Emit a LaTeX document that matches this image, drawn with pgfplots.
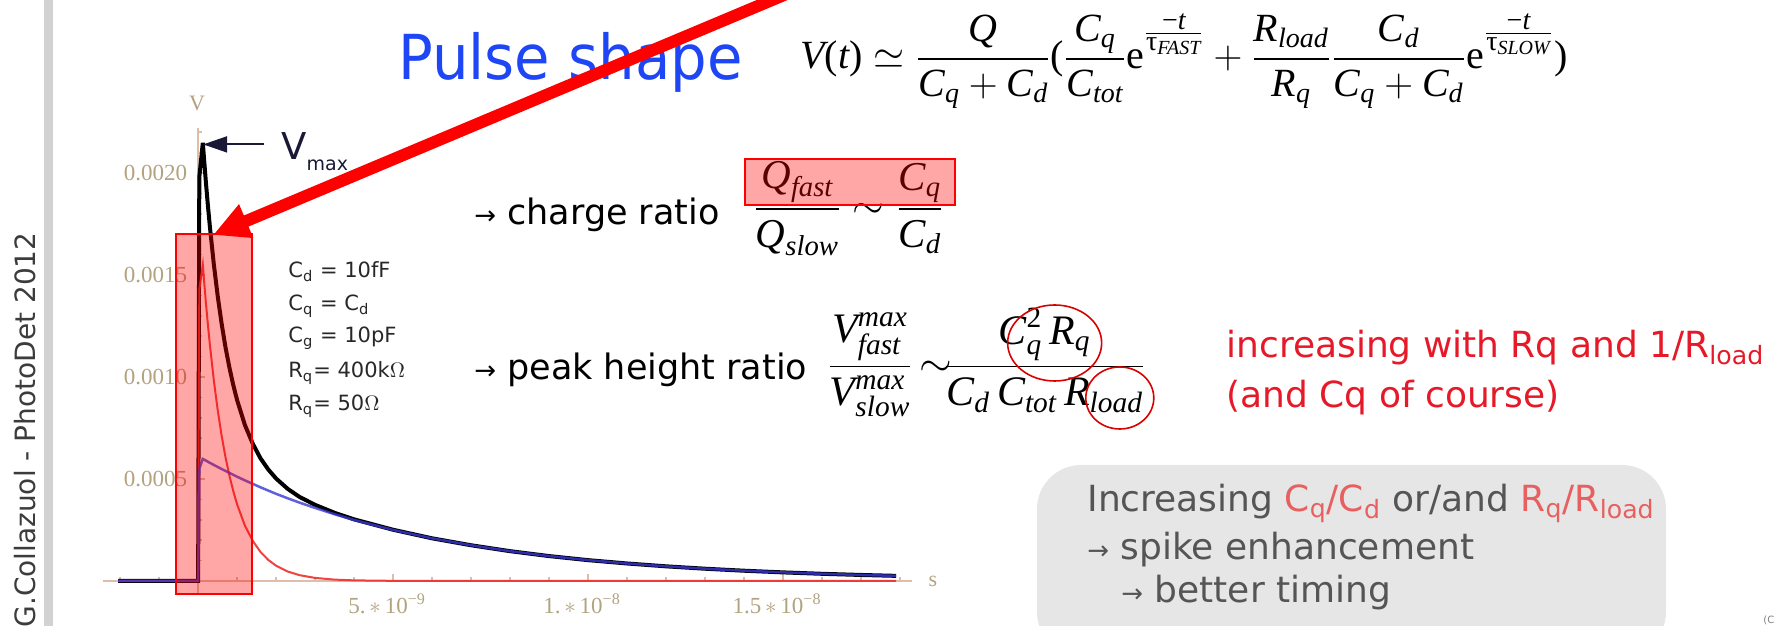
\RequirePackage{fix-cm}
\documentclass[border=0pt]{standalone}
\usepackage{amsmath}
\usepackage{fontspec}
\setmainfont{DejaVu Sans}
\newfontfamily\tms{Liberation Serif}
\newfontfamily\titlefont[FakeStretch=0.93]{DejaVu Sans}
\usepackage{pgfplots}
\pgfplotsset{compat=1.18}
\usetikzlibrary{arrows.meta,calc}

\definecolor{titleblue}{RGB}{30,70,245}
\definecolor{axiscol}{RGB}{222,190,168}
\definecolor{labelcol}{RGB}{178,162,128}
\definecolor{curveblue}{RGB}{55,55,215}
\definecolor{curvered}{RGB}{238,45,45}
\definecolor{txtred}{RGB}{230,25,40}
\definecolor{boxgrey}{RGB}{230,230,230}
\definecolor{boxtext}{RGB}{85,85,85}
\definecolor{boxred}{RGB}{232,95,95}
\definecolor{bargrey}{RGB}{210,210,210}
\definecolor{sidetext}{RGB}{60,60,60}
\definecolor{paramtext}{RGB}{40,40,40}
\definecolor{vmaxcol}{RGB}{25,25,55}

% italic / upright Times-like letters for the formulas
\newcommand\mi[1]{\text{\tms\itshape #1}}
\newcommand\mr[1]{\text{\tms #1}}
\newcommand\expo[1]{^{\raisebox{7pt}{$\scriptstyle\frac{\scriptstyle\mr{−}\mi{t}}{\scriptstyle\mr{τ}_{\mi{#1}}}$}}}
\newcommand\sarr{{\fontsize{13}{13}\selectfont →}}
\newcommand\tickfont{\tms\fontsize{11.5}{14}\selectfont}

\begin{document}
\begin{tikzpicture}[x=0.5pt,y=0.5pt]
\path[use as bounding box] (0,0) rectangle (1777,626);
\clip (0,0) rectangle (1777,626);

% side bar and author line
\fill[bargrey] (44,0) rectangle (53,626);
\node[rotate=90, anchor=base west, inner sep=0, text=sidetext,
      font=\fontsize{14}{16}\selectfont] at (35,-2) {G.Collazuol - PhotoDet 2012};

% pulse shape plot: fast (red), slow (blue) and total (black) components
\begin{axis}[
  at={(51.5pt,16.4pt)}, anchor=south west, scale only axis,
  width=404.35pt, height=232.55pt,
  xmin=-2.44, xmax=18.3, ymin=-0.00006, ymax=0.00222,
  axis lines=middle,
  axis line style={-, draw=axiscol, line width=1pt},
  xtick={5,10,15},
  xticklabels={5.\,$\ast$\,10\textsuperscript{−9},
               1.\,$\ast$\,10\textsuperscript{−8},
               1.5\,$\ast$\,10\textsuperscript{−8}},
  minor xtick={-2,-1,1,2,3,4,6,7,8,9,11,12,13,14,16,17,18},
  ytick={0.0005,0.001,0.0015,0.002},
  yticklabels={0.0005,0.0010,0.0015,0.0020},
  minor ytick={0.0001,0.0002,0.0003,0.0004,0.0006,0.0007,0.0008,0.0009,
               0.0011,0.0012,0.0013,0.0014,0.0016,0.0017,0.0018,0.0019,
               0.0021,0.0022},
  scaled y ticks=false, scaled x ticks=false,
  tick align=inside,
  major tick length=3.5pt, minor tick length=2pt,
  every tick/.style={draw=axiscol, line width=0.8pt},
  tick label style={font=\tickfont, text=labelcol},
  xticklabel style={yshift=-3pt, xshift=-3pt},
  yticklabel style={xshift=-2pt},
]
% total pulse
\addplot[black, line width=2pt] table {
-2.05 0
0 0
0.03 0.00198
0.12 0.002148
0.15 0.002073
0.2 0.001952
0.25 0.001841
0.3 0.001739
0.4 0.001556
0.5 0.001399
0.6 0.001264
0.7 0.001147
0.8 0.001048
0.9 0.000961
1.0 0.000886
1.2 0.000764
1.4 0.000673
1.6 0.000601
1.8 0.000546
2.0 0.000502
2.3 0.000451
2.6 0.000412
3.0 0.000373
3.5 0.000334
4.0 0.000302
5.0 0.000251
6.0 0.000209
7.0 0.000175
8.0 0.000146
9.0 0.000122
10 0.000102
11 0.0000857
12 0.0000717
13 0.0000600
14 0.0000502
15 0.0000420
16 0.0000351
17 0.0000294
17.9 0.0000250
};
% fast component
\addplot[curvered, opacity=0.9, line width=1pt] table {
-2.05 0
0 0
0.03 0.00143
0.12 0.00155
0.15 0.001477
0.2 0.001362
0.25 0.001257
0.3 0.001160
0.4 0.000987
0.5 0.000840
0.6 0.000715
0.7 0.000608
0.8 0.000518
0.9 0.000441
1.0 0.000375
1.2 0.000271
1.4 0.000197
1.6 0.000142
1.8 0.000103
2.0 0.0000747
2.3 0.0000461
2.6 0.0000284
3.0 0.0000149
3.5 0.0000066
4.0 0.0000029
5.0 0.0000006
6.0 0
17.9 0
};
% slow component
\addplot[curveblue, opacity=0.8, line width=1.25pt] table {
-2.05 0
0 0
0.03 0.00055
0.12 0.000598
0.2 0.000590
0.3 0.000579
0.4 0.000569
0.6 0.000549
0.8 0.000530
1.0 0.000511
1.2 0.000493
1.4 0.000476
1.6 0.000459
1.8 0.000443
2.0 0.000427
2.3 0.000405
2.6 0.000384
3.0 0.000358
3.5 0.000327
4.0 0.000299
5.0 0.000250
6.0 0.000209
7.0 0.000175
8.0 0.000146
9.0 0.000122
10 0.000102
11 0.0000857
12 0.0000717
13 0.0000600
14 0.0000502
15 0.0000420
16 0.0000351
17 0.0000294
17.9 0.0000250
};
% V_max pointer at the peak of the total pulse
\draw[vmaxcol, line width=1pt, -{Triangle[length=12pt,width=8pt]}]
  (axis cs:1.7,0.00214) -- (axis cs:0.13,0.00214);
\end{axis}

% axis names
\node[text=labelcol, font=\tms\fontsize{11}{12}\selectfont] at (197,523) {V};
\node[text=labelcol, font=\tms\fontsize{11}{12}\selectfont] at (933,45) {s};

% highlighted spike region
\fill[red, opacity=0.35] (175.7,31.7) rectangle (251.7,392);
\draw[red, line width=1pt] (175.7,31.7) rectangle (251.7,392);

% V_max label
\node[anchor=base west, inner sep=0, text=vmaxcol, font=\fontsize{18.5}{20}\selectfont]
  at (281,466) {V\raisebox{-0.28em}{\fontsize{9.5}{10}\selectfont max}};

% circuit parameters
\begin{scope}[every node/.style={anchor=base west, inner sep=0, text=paramtext,
      font=\fontsize{10.5}{12}\selectfont}]
\node at (288,348) {C\textsubscript{d} = 10fF};
\node at (288,315) {C\textsubscript{q} = C\textsubscript{d}};
\node at (288,283) {C\textsubscript{g} = 10pF};
\node at (288,248) {R\textsubscript{q}= 400k$\Omega$};
\node at (288,215) {R\textsubscript{q}= 50$\Omega$};
\end{scope}

% title and pulse formula
\node[anchor=base west, inner sep=0, text=titleblue, font=\titlefont\fontsize{31}{36}\selectfont]
  at (398,546) {Pulse shape};
\node[anchor=base west, inner sep=0, font=\fontsize{20}{24}\selectfont] at (800,557)
 {$\mi{V}\mr{(}\mi{t}\mr{)}\simeq\dfrac{\mi{Q}}{\mi{C}_{\mi{q}}+\mi{C}_{\mi{d}}}\mr{(}%
   \dfrac{\mi{C}_{\mi{q}}}{\mi{C}_{\mi{tot}}}\mr{e}\expo{FAST}+%
   \dfrac{\mi{R}_{\mi{load}}}{\mi{R}_{\mi{q}}}\dfrac{\mi{C}_{\mi{d}}}{\mi{C}_{\mi{q}}+\mi{C}_{\mi{d}}}%
   \mr{e}\expo{SLOW}\mr{)}$};

% charge ratio
\node[anchor=base west, inner sep=0, font=\fontsize{17.5}{20}\selectfont] at (474,401)
  {\sarr\ charge ratio};
\node[anchor=base west, inner sep=0, font=\fontsize{20.5}{24}\selectfont] at (753,407)
  {$\dfrac{\mi{Q}_{\mi{fast}}}{\mi{Q}_{\mi{slow}}}\sim\dfrac{\mi{C}_{\mi{q}}}{\mi{C}_{\mi{d}}}$};
\fill[red, opacity=0.35] (745,421) rectangle (955,467);
\draw[red, line width=1pt] (745,421) rectangle (955,467);

% peak height ratio
\node[anchor=base west, inner sep=0, font=\fontsize{17.5}{20}\selectfont] at (474,246)
  {\sarr\ peak height ratio};
\node (pv) [anchor=base west, inner sep=0, font=\fontsize{21}{25}\selectfont] at (827,249)
  {$\dfrac{\mi{V}^{\mi{max}}_{\mi{fast}}}{\mi{V}^{\mi{max}}_{\mi{slow}}}\mkern-2mu\sim\mkern-4mu$};
\node (pb) [anchor=base west, inner sep=0, font=\fontsize{21}{25}\selectfont] at (pv.base east)
  {$\dfrac{\mi{C}^{\mr{2}}_{\mi{q}}\,\mi{R}_{\mi{q}}}{\mi{C}_{\mi{d}}\,\mi{C}_{\mi{tot}}\,\mi{R}_{\mi{load}}}$};
\draw[red!85!black, line width=0.8pt] ($(pb.north |- 0,283)+(10,0)$) ellipse [x radius=47, y radius=38];
\draw[red!85!black, line width=0.8pt] ($(pb.east |- 0,228)+(-26,0)$) ellipse [x radius=34, y radius=31];

% remarks
\node[anchor=base west, inner sep=0, text=txtred, font=\fontsize{18}{21}\selectfont] at (1226,268)
  {increasing with Rq and 1/R\textsubscript{load}};
\node[anchor=base west, inner sep=0, text=txtred, font=\fontsize{18}{21}\selectfont] at (1226,218)
  {(and Cq of course)};

% summary box
\fill[boxgrey, rounded corners=22] (1037,-30) rectangle (1666,161);
\begin{scope}[every node/.style={anchor=base west, inner sep=0, text=boxtext,
      font=\fontsize{18}{21}\selectfont}]
\node at (1087,114) {Increasing {\color{boxred}C\textsubscript{q}/C\textsubscript{d}} or/and
  {\color{boxred}R\textsubscript{q}/R\textsubscript{load}}};
\node at (1087,66) {\sarr\ spike enhancement};
\node at (1121,23) {\sarr\ better timing};
\end{scope}
\node[anchor=base west, inner sep=0, text=gray, font=\fontsize{5}{6}\selectfont] at (1763,2) {(C};

% pointer from the formula to the spike
\draw[red, line width=6pt, -{Triangle[length=18pt,width=17pt]}] (796,636) -- (213,391);
\end{tikzpicture}
\end{document}
